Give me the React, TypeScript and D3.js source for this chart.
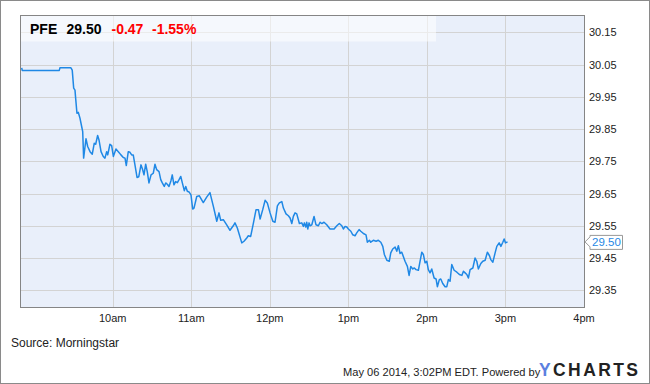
import React from "react";
import * as d3 from "d3";

// minutes since midnight (May 06 2014)
const times: number[] = [
  530.5, 530.9, 559.2, 559.7, 568.1, 569.1, 570.2, 571.2, 571.7, 572.7, 573.7, 575.0, 576.3, 577.1, 577.8,
  579.6, 580.9, 582.7, 584.4, 585.9, 587.0, 588.5, 589.5, 591.1, 592.8, 594.1, 595.4, 596.2, 597.9, 599.2,
  600.5, 602.5, 604.3, 606.3, 608.1, 609.4, 610.4, 611.9, 613.2, 614.5, 615.7, 617.0, 618.6, 619.9, 621.6,
  622.9, 623.9, 625.2, 626.4, 627.7, 629.3, 631.0, 632.3, 633.6, 635.4, 636.7, 637.9, 639.4, 640.5, 641.7,
  643.0, 644.5, 645.5, 646.8, 648.1, 649.4, 650.7, 652.0, 653.2, 654.7, 655.8, 657.0, 658.3, 659.8, 661.1,
  662.1, 664.2, 666.2, 669.2, 671.8, 674.3, 676.9, 679.5, 681.2, 682.5, 684.5, 687.1, 689.6, 692.1, 693.4,
  695.2, 698.6, 700.3, 702.4, 703.6, 705.4, 707.4, 709.5, 711.3, 712.6, 714.6, 716.4, 718.1, 720.2, 722.3,
  724.0, 725.8, 727.3, 729.2, 730.4, 732.4, 734.2, 735.5, 736.8, 738.0, 739.3, 740.6, 742.6, 744.4, 745.7,
  746.4, 747.5, 748.2, 749.0, 750.0, 750.8, 752.1, 753.8, 755.3, 757.1, 758.4, 759.7, 761.4, 763.5, 766.0,
  769.1, 771.2, 773.1, 775.0, 776.2, 777.5, 778.8, 780.0, 781.9, 783.4, 785.1, 786.4, 788.2, 789.5, 791.5,
  793.5, 794.5, 796.1, 797.1, 799.1, 801.2, 802.9, 804.8, 806.3, 807.5, 809.4, 811.3, 812.4, 813.9, 815.7,
  817.0, 818.2, 819.5, 820.8, 822.0, 823.3, 825.1, 826.4, 827.7, 829.2, 830.4, 831.7, 833.5, 834.8, 836.1,
  837.3, 838.6, 839.9, 841.1, 842.4, 843.7, 845.5, 847.0, 848.0, 849.5, 850.6, 852.1, 853.9, 855.2, 856.4,
  857.7, 859.0, 860.8, 862.9, 864.8, 866.7, 867.9, 869.2, 870.5, 871.7, 873.0, 875.1, 876.8, 878.1, 879.3,
  881.2, 882.7, 884.5, 886.2, 887.8, 888.8, 890.4, 892.1, 893.4, 895.2, 896.5, 898.0, 899.0, 900.0, 901.6,
];

const prices: number[] = [
  30.040, 30.032, 30.032, 30.040, 30.040, 30.033, 29.977, 29.971, 29.946, 29.899, 29.902, 29.884, 29.858, 29.842, 29.760,
  29.820, 29.796, 29.780, 29.772, 29.806, 29.803, 29.830, 29.817, 29.780, 29.765, 29.760, 29.780, 29.770, 29.803, 29.799,
  29.765, 29.788, 29.780, 29.770, 29.762, 29.760, 29.737, 29.780, 29.778, 29.770, 29.770, 29.739, 29.700, 29.702, 29.739,
  29.724, 29.708, 29.741, 29.718, 29.683, 29.708, 29.713, 29.741, 29.724, 29.718, 29.693, 29.683, 29.672, 29.683, 29.679,
  29.672, 29.690, 29.708, 29.677, 29.687, 29.684, 29.693, 29.703, 29.683, 29.659, 29.672, 29.657, 29.655, 29.646, 29.602,
  29.605, 29.641, 29.643, 29.622, 29.639, 29.653, 29.610, 29.564, 29.590, 29.567, 29.569, 29.553, 29.536, 29.550, 29.559,
  29.543, 29.497, 29.502, 29.512, 29.519, 29.517, 29.557, 29.600, 29.600, 29.571, 29.600, 29.629, 29.621, 29.590, 29.564,
  29.561, 29.612, 29.621, 29.625, 29.605, 29.587, 29.581, 29.574, 29.557, 29.579, 29.590, 29.587, 29.557, 29.559, 29.548,
  29.559, 29.546, 29.561, 29.540, 29.559, 29.550, 29.553, 29.579, 29.553, 29.550, 29.561, 29.557, 29.561, 29.553, 29.540,
  29.540, 29.550, 29.557, 29.550, 29.540, 29.548, 29.546, 29.540, 29.533, 29.522, 29.519, 29.528, 29.538, 29.533, 29.526,
  29.522, 29.499, 29.505, 29.499, 29.505, 29.502, 29.505, 29.499, 29.486, 29.461, 29.443, 29.440, 29.466, 29.478, 29.484,
  29.471, 29.488, 29.464, 29.468, 29.455, 29.440, 29.424, 29.396, 29.424, 29.416, 29.419, 29.414, 29.412, 29.440, 29.468,
  29.461, 29.435, 29.440, 29.414, 29.404, 29.416, 29.388, 29.385, 29.361, 29.383, 29.385, 29.371, 29.361, 29.361, 29.383,
  29.378, 29.430, 29.412, 29.406, 29.399, 29.396, 29.409, 29.404, 29.399, 29.388, 29.414, 29.419, 29.450, 29.440, 29.416,
  29.433, 29.440, 29.443, 29.468, 29.457, 29.445, 29.437, 29.466, 29.486, 29.497, 29.486, 29.499, 29.509, 29.497, 29.500,
];

const yTicks: number[] = [29.35, 29.45, 29.55, 29.65, 29.75, 29.85, 29.95, 30.05, 30.15];
const xTicks: number[] = [600, 660, 720, 780, 840, 900, 960];
const xTickLabels: string[] = ["10am", "11am", "12pm", "1pm", "2pm", "3pm", "4pm"];

const ticker = "PFE";
const lastPrice = "29.50";
const change = "-0.47";
const changePct = "-1.55%";
const sourceText = "Source: Morningstar";
const footerText = "May 06 2014, 3:02PM EDT. Powered by";

const W = 650;
const H = 384;
const L = 20, R = 584, T = 15, B = 307;
const FONT = "'Liberation Sans', Arial, sans-serif";

export default function App() {
  const x = d3.scaleLinear().domain([529.2, 960]).range([L, R]);
  const y = d3.scaleLinear().domain([29.298, 30.204]).range([B, T]);
  const pts = times.map((t, i) => [t, prices[i]] as [number, number]);
  const line = d3
    .line<[number, number]>()
    .x((d) => x(d[0]))
    .y((d) => y(d[1]));
  const lastY = y(prices[prices.length - 1]);

  return (
    <div style={{ position: "fixed", left: 0, top: 0 }}>
      <svg width={W} height={H} style={{ display: "block", fontFamily: FONT }}>
        <rect x={0} y={0} width={W} height={H} fill="#ffffff" />
        <rect x={0.5} y={0.5} width={W - 1} height={H - 1} fill="none" stroke="#8a8a8a" />
        <rect x={L} y={T} width={R - L} height={B - T} fill="#e9effa" />
        {yTicks.map((v) => (
          <line key={"gy" + v} x1={L} x2={R} y1={Math.round(y(v)) + 0.5} y2={Math.round(y(v)) + 0.5} stroke="#d3d3d3" />
        ))}
        {xTicks.slice(0, -1).map((t) => (
          <line key={"gx" + t} x1={Math.round(x(t)) + 0.5} x2={Math.round(x(t)) + 0.5} y1={T} y2={B} stroke="#d3d3d3" />
        ))}
        <rect x={L} y={T} width={416} height={26.5} fill="#ffffff" opacity={0.55} />
        <path d={line(pts) || ""} fill="none" stroke="#1f88e5" strokeWidth={1.5} strokeLinejoin="round" />
        <rect x={L + 0.5} y={T + 0.5} width={R - L} height={B - T} fill="none" stroke="#858585" />
        <g fontSize={14} fontWeight="bold">
          <text x={30} y={33.5} fill="#000">{ticker}</text>
          <text x={66.5} y={33.5} fill="#000">{lastPrice}</text>
          <text x={111.5} y={33.5} fill="#ff0000">{change}</text>
          <text x={152} y={33.5} fill="#ff0000">{changePct}</text>
        </g>
        <g fontSize={11} fill="#222">
          {yTicks.map((v) => (
            <text key={"ty" + v} x={589} y={y(v) + 4}>{v.toFixed(2)}</text>
          ))}
          {xTicks.map((t, i) => (
            <text key={"tx" + t} x={x(t)} y={322} textAnchor="middle">{xTickLabels[i]}</text>
          ))}
        </g>
        <path
          d={`M${R + 1},${lastY} L${R + 6},${lastY - 5} L${R + 6},${lastY - 6.5} L${R + 38.5},${lastY - 6.5} L${R + 38.5},${lastY + 7.5} L${R + 6},${lastY + 7.5} L${R + 6},${lastY + 5} Z`}
          fill="#ffffff"
          stroke="#999"
        />
        <text x={592} y={lastY + 4.5} fontSize={11.5} fill="#1f88e5">{lastPrice}</text>
        <text x={11} y={347} fontSize={12} fill="#222">{sourceText}</text>
        <text x={343} y={375.5} fontSize={11.1} fill="#222">{footerText}</text>
        <text x={539} y={375.8} fontSize={17.5} fontWeight="bold" letterSpacing={2.4}>
          <tspan fill="#5b80e0">Y</tspan>
          <tspan fill="#222">CHARTS</tspan>
        </text>
      </svg>
    </div>
  );
}
